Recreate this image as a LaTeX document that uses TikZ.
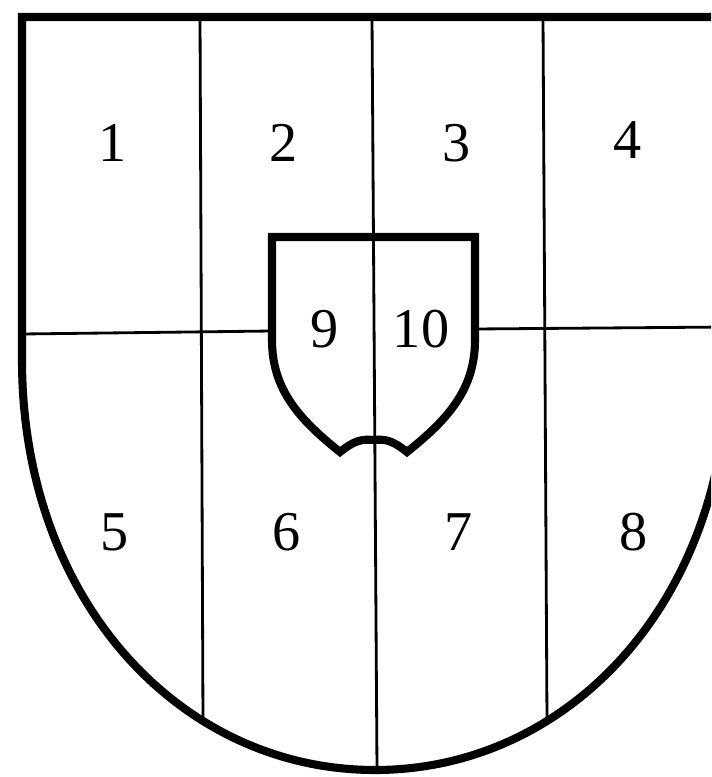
\documentclass[tikz,border=0pt]{standalone}
\usepackage{fontspec}
\setmainfont{Liberation Serif}
\usetikzlibrary{positioning}
\tikzset{
  heavy/.style={line width=4.6pt},
  thin/.style={line width=1.6pt},
  num/.style={font=\fontsize{32}{38}\selectfont, inner sep=0pt}
}

\begin{document}
\begin{tikzpicture}[x=0.02cm, y=-0.02cm]
    \useasboundingbox (0,0) rectangle (711,777);
    \clip (0,0) rectangle (711,777);
    % dividing lines
    \draw[thin] (200,17) -- (203,721);
    \draw[thin] (372,17) -- (377,770);
    \draw[thin] (543,17) -- (547,721);
    \draw[thin] (22,334) -- (272,331);
    \draw[thin] (475,329) -- (728,327);
    % small shield in the middle
    \draw[heavy] (272,237) -- (475,237) -- (475,340)
      .. controls (475,390) and (447,420) .. (407,452)
      .. controls (392,440) and (385,439) .. (373.5,440)
      .. controls (362,439) and (355,440) .. (340,452)
      .. controls (300,420) and (272,390) .. (272,340) -- cycle;
    % outer shield
    \draw[heavy] (22,17) -- (22,360)
      .. controls (22,600) and (180,770) .. (375,770)
      .. controls (570,770) and (728,600) .. (728,360) -- (728,17) -- cycle;
    % field numbers
    \node[num] (f1) at (113,143) {1};
    \node[num] (f2) at (284,143) {2};
    \node[num] (f3) at (457,143) {3};
    \node[num] (f4) at (628,140) {4};
    \node[num] (f5) at (115,532) {5};
    \node[num] (f6) at (287,532) {6};
    \node[num] (f7) at (459,532) {7};
    \node[num] (f8) at (634,532) {8};
    \node[num] (f9) at (325,329) {9};
    \node[num] (f10) at (421,329) {10};
\end{tikzpicture}
\end{document}
